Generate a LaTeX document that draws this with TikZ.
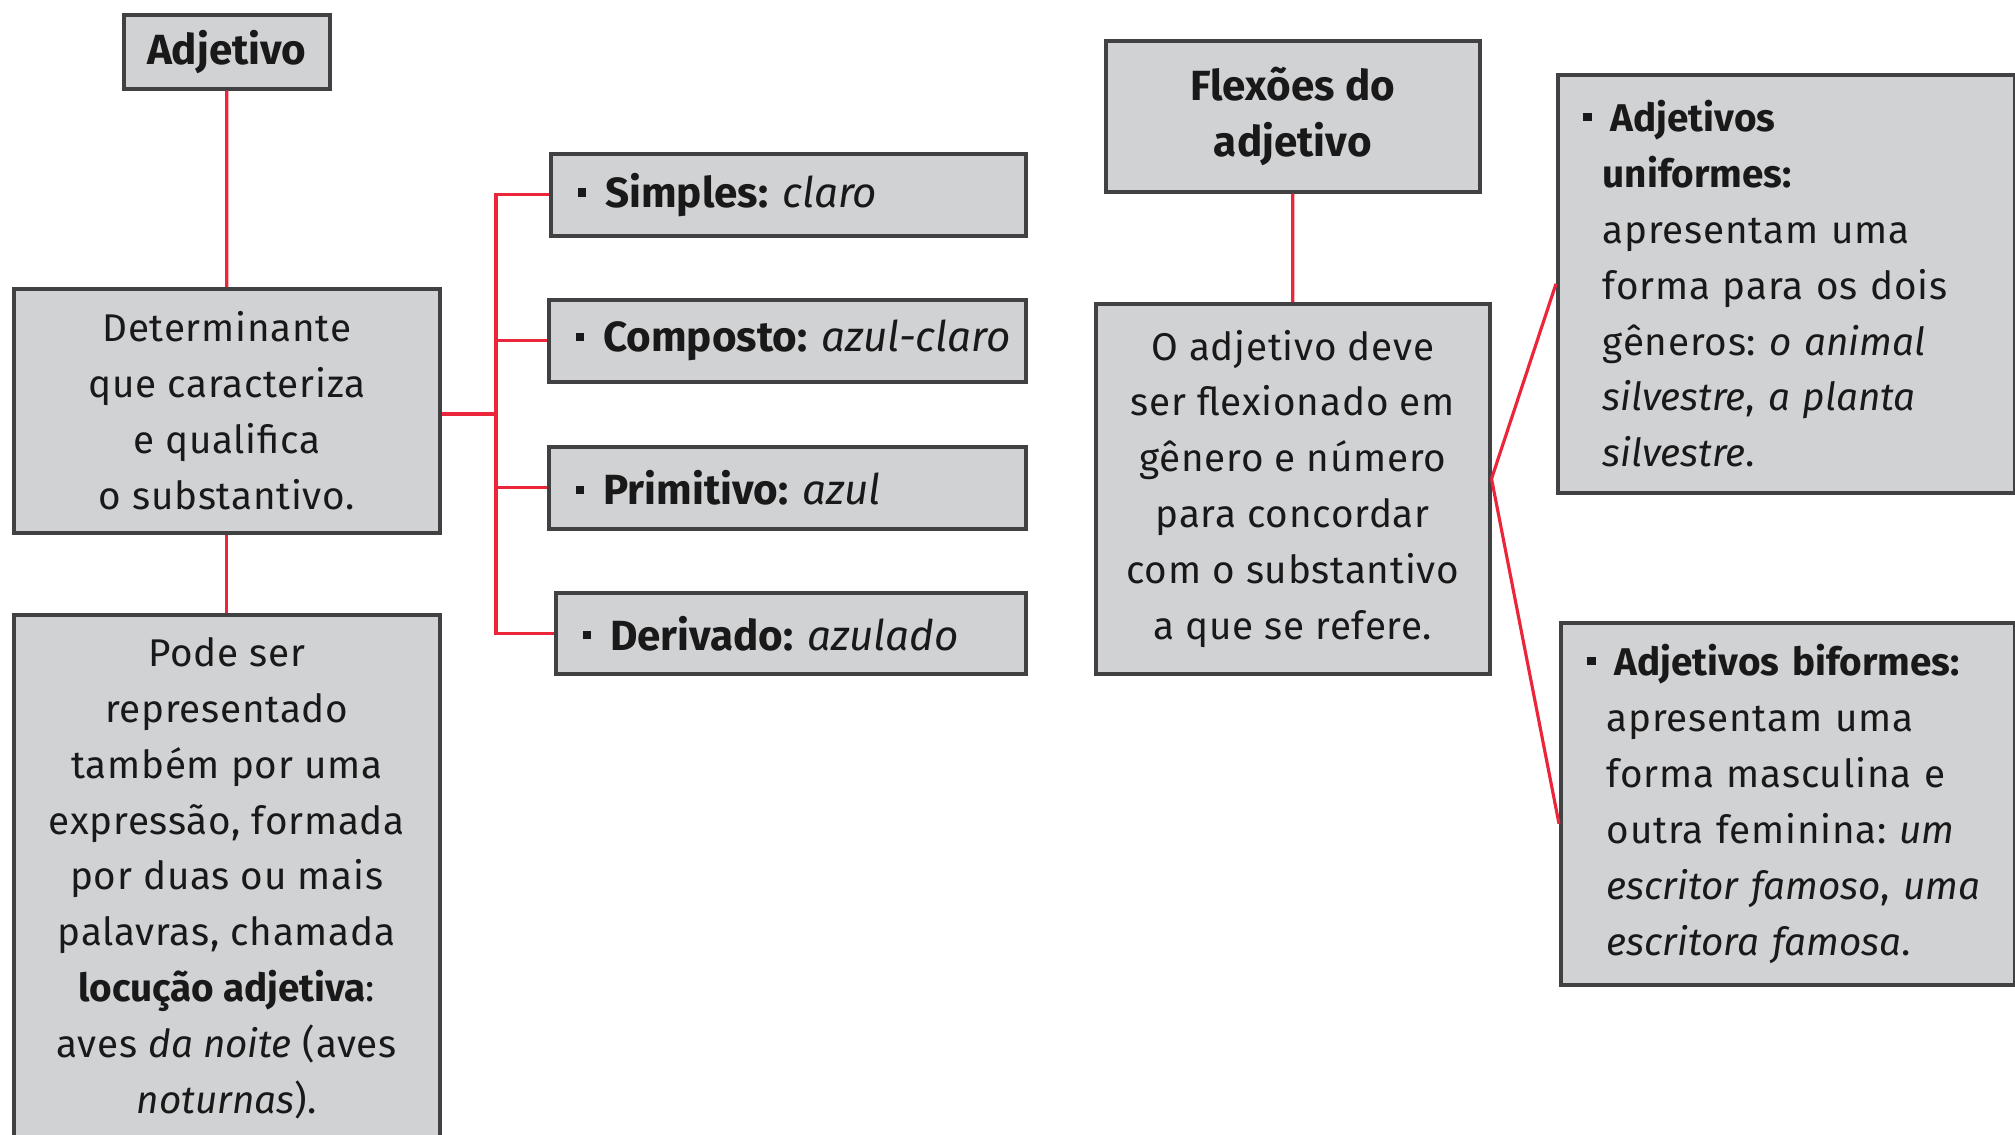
\documentclass[tikz,border=0pt]{standalone}
\usepackage{fontspec}
\setmainfont{Fira Sans}[UprightFeatures={LetterSpace=2}]
\usepackage{xcolor}
\usepackage{tikz}
\usetikzlibrary{positioning,calc}
\definecolor{boxgray}{RGB}{209,210,212}
\definecolor{boxline}{RGB}{65,64,66}
\definecolor{linkred}{RGB}{236,38,58}
\frenchspacing
\newcommand{\sqbul}{\rule[3pt]{2.4pt}{2.4pt}}
\tikzset{
  box/.style={draw=boxline, line width=1pt, fill=boxgray, anchor=north west, inner sep=0pt, text=black!90},
  cbox/.style={box, align=center, font=\fontsize{11}{15.9}\selectfont},
  hbox/.style={box, align=center, font=\fontsize{12}{15.9}\selectfont\bfseries},
  ibox/.style={box, align=left, font=\fontsize{12}{15.9}\selectfont},
  tbox/.style={box, align=left, font=\fontsize{11}{15.9}\selectfont},
  link/.style={draw=linkred, line width=0.9pt}
}
\begin{document}
\begin{tikzpicture}
\useasboundingbox (0,0) rectangle (20.15,-11.34);
% left column
\node[hbox, minimum width=2.06cm, minimum height=0.74cm] (adj) at (1.22,-0.13) {Adjetivo};
\node[cbox, minimum width=4.26cm, minimum height=2.44cm] (det) at (0.12,-2.87)
  {Determinante\\que caracteriza\\e qualifica\\o substantivo.};
\node[cbox, minimum width=4.26cm, minimum height=5.27cm] (pode) at (0.12,-6.13)
  {Pode ser\\representado\\também por uma\\expressão, formada\\por duas ou mais\\palavras, chamada\\\textbf{locução adjetiva}:\\aves \textit{da noite} (aves\\\textit{noturnas}).};
% kinds
\node[ibox, minimum width=4.75cm, minimum height=0.82cm, text width=4.21cm] (simp) at (5.49,-1.52)
  {\sqbul\hspace{1.9mm}\textbf{Simples:} \textit{claro}};
\node[ibox, minimum width=4.77cm, minimum height=0.82cm, text width=4.23cm] (comp) at (5.47,-2.98)
  {\mbox{\sqbul\hspace{1.9mm}\textbf{Composto:} \textit{azul-claro}}};
\node[ibox, minimum width=4.77cm, minimum height=0.82cm, text width=4.23cm] (prim) at (5.47,-4.45)
  {\sqbul\hspace{1.9mm}\textbf{Primitivo:} \textit{azul}};
\node[ibox, minimum width=4.70cm, minimum height=0.81cm, text width=4.16cm] (deriv) at (5.54,-5.91)
  {\sqbul\hspace{1.9mm}\textbf{Derivado:} \textit{azulado}};
% flexions
\node[hbox, minimum width=3.74cm, minimum height=1.51cm] (flex) at (11.04,-0.39) {Flexões do\\adjetivo};
\node[cbox, minimum width=3.94cm, minimum height=3.70cm] (conc) at (10.94,-3.02)
  {O adjetivo deve\\ser flexionado em\\gênero e número\\para concordar\\com o substantivo\\a que se refere.};
\node[tbox, minimum width=4.57cm, minimum height=4.18cm, text width=3.67cm] (unif) at (15.56,-0.73)
  {\leavevmode\llap{\sqbul\hspace{1.1mm}}\hspace{0.8mm}\textbf{Adjetivos}\\\textbf{uniformes:}\\apresentam uma\\forma para os dois\\gêneros: \textit{o animal}\\\textit{silvestre}, \textit{a planta}\\\textit{silvestre}.};
\node[tbox, minimum width=4.54cm, minimum height=3.62cm, text width=3.62cm] (bif) at (15.59,-6.21)
  {\leavevmode\llap{\sqbul\hspace{1.1mm}}\hspace{0.8mm}\mbox{\textbf{Adjetivos biformes:}}\\apresentam uma\\forma masculina e\\\mbox{outra feminina: \textit{um}}\\\mbox{\textit{escritor famoso}, \textit{uma}}\\\textit{escritora famosa}.};
% connectors
\coordinate (bus) at (4.96,-4.14);
\draw[link] (adj) -- (det);
\draw[link] (det) -- (pode);
\draw[link] (det.east |- bus) -- (bus);
\foreach \k in {simp,comp,prim,deriv}
  \draw[link] (\k.west) -| (bus);
\draw[link] (flex) -- (conc);
\draw[link] ([yshift=1mm]conc.east) -- (unif.west);
\draw[link] ([yshift=1mm]conc.east) -- ([yshift=-2mm]bif.west);
\end{tikzpicture}
\end{document}
